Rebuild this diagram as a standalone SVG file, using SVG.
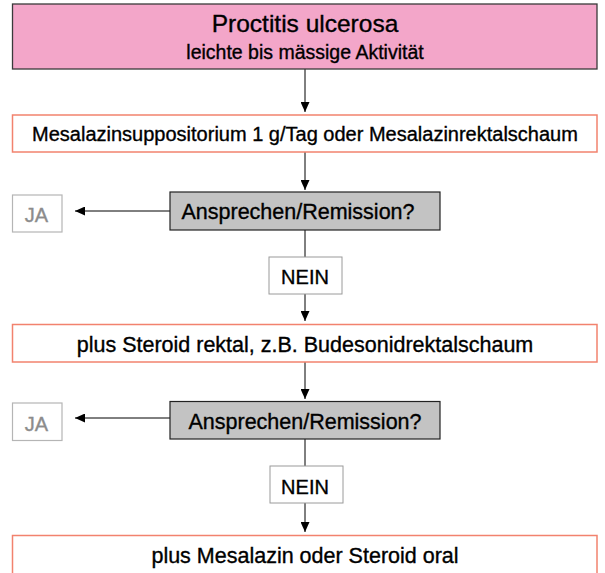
<svg xmlns="http://www.w3.org/2000/svg" width="605" height="573" viewBox="0 0 605 573">
  <style>
    text { font-family: "Liberation Sans", Arial, sans-serif; fill: #000; stroke: #000; stroke-width: 0.35; text-anchor: middle; }
    .box { fill: #fff; stroke: #f2826e; stroke-width: 1.5; }
    .q { fill: #c3c3c3; stroke: #222; stroke-width: 1.2; }
    .nein { fill: #fff; stroke: #9a9a9a; stroke-width: 1; }
    .ja { fill: #fff; stroke: #b5b5b5; stroke-width: 1.2; }
    .jat { fill: #8c8c8c; stroke: #8c8c8c; font-size: 20px; }
    .conn { stroke: #000; stroke-width: 1; fill: none; }
  </style>
  <defs>
    <marker id="arr" markerUnits="userSpaceOnUse" markerWidth="10" markerHeight="9" refX="10" refY="4.5" orient="auto">
      <path d="M0,0 L10,4.5 L0,9 z" fill="#000"/>
    </marker>
  </defs>

  <g id="connectors">
    <line class="conn" x1="305" y1="69" x2="305" y2="112" marker-end="url(#arr)"/>
    <line class="conn" x1="305" y1="152" x2="305" y2="190" marker-end="url(#arr)"/>
    <line class="conn" x1="170" y1="211" x2="75" y2="211" marker-end="url(#arr)"/>
    <line class="conn" x1="305" y1="230" x2="305" y2="257"/>
    <line class="conn" x1="305" y1="294" x2="305" y2="321" marker-end="url(#arr)"/>
    <line class="conn" x1="305" y1="362" x2="305" y2="399" marker-end="url(#arr)"/>
    <line class="conn" x1="170" y1="418" x2="75" y2="418" marker-end="url(#arr)"/>
    <line class="conn" x1="305" y1="439" x2="305" y2="466"/>
    <line class="conn" x1="305" y1="503" x2="305" y2="532" marker-end="url(#arr)"/>
  </g>

  <g id="start">
    <rect x="12.5" y="4" width="584.5" height="65" fill="#f3a6c9" stroke="#3a3a3a" stroke-width="1.3"/>
    <text x="305" y="32" font-size="24.5">Proctitis ulcerosa</text>
    <text x="305" y="59" font-size="19.5">leichte bis mässige Aktivität</text>
  </g>

  <g id="step1">
    <rect class="box" x="12.5" y="115" width="584.5" height="37"/>
    <text x="305" y="140.5" font-size="20">Mesalazinsuppositorium 1 g/Tag oder Mesalazinrektalschaum</text>
  </g>

  <g id="q1">
    <rect class="q" x="170" y="192" width="270" height="38"/>
    <text x="298" y="219" font-size="21.5">Ansprechen/Remission?</text>
  </g>

  <g id="ja1">
    <rect class="ja" x="12.5" y="195" width="49.5" height="37"/>
    <text class="jat" x="36.5" y="222">JA</text>
  </g>

  <g id="nein1">
    <rect class="nein" x="269" y="257" width="73" height="37"/>
    <text x="305" y="284" font-size="20">NEIN</text>
  </g>

  <g id="step2">
    <rect class="box" x="12.5" y="324.5" width="584.5" height="37.5"/>
    <text x="305" y="351.5" font-size="21.5">plus Steroid rektal, z.B. Budesonidrektalschaum</text>
  </g>

  <g id="q2">
    <rect class="q" x="170" y="401.5" width="270" height="37.5"/>
    <text x="305" y="429" font-size="21.5">Ansprechen/Remission?</text>
  </g>

  <g id="ja2">
    <rect class="ja" x="12.5" y="403" width="49.5" height="37.5"/>
    <text class="jat" x="36.5" y="431">JA</text>
  </g>

  <g id="nein2">
    <rect class="nein" x="270" y="466" width="73" height="37"/>
    <text x="305" y="493.5" font-size="20">NEIN</text>
  </g>

  <g id="step3">
    <rect class="box" x="12.5" y="535.5" width="584.5" height="40"/>
    <text x="305" y="562.5" font-size="21.5">plus Mesalazin oder Steroid oral</text>
  </g>
</svg>
